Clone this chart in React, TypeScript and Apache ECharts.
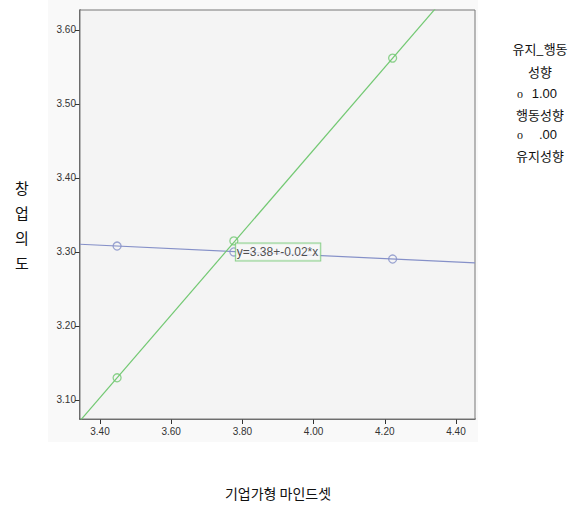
import React, { useEffect, useRef } from "react";
import * as echarts from "echarts";

const xTicks = ["3.40", "3.60", "3.80", "4.00", "4.20", "4.40"];
const yTicks = ["3.10", "3.20", "3.30", "3.40", "3.50", "3.60"];
const groupX = [3.448, 3.776, 4.222];
const actionValues = [3.13, 3.315, 3.562]; // 행동성향 (1.00)
const keepValues = [3.308, 3.3, 3.2905]; // 유지성향 (.00)
const actionFit = [1.206, 0.558];
const keepFit = [3.386, -0.0226];
const fitLabel = "y=3.38+-0.02*x";
const legendTitle = "유지_행동\n성향";
const legendItems = ["1.00\n행동성향", ".00\n유지성향"];

const X_MIN = 3.3438;
const X_MAX = 4.4534;
const Y_MIN = 3.0743;
const Y_MAX = 3.627;

const GREEN = "#72c872";
const BLUE = "#8590c8";

export default function App() {
  const ref = useRef<HTMLDivElement>(null);
  useEffect(() => {
    if (!ref.current) return;
    const chart = echarts.init(ref.current, null, { renderer: "svg" });
    const fitLine = (c: number[]) => [
      [X_MIN, c[0] + c[1] * X_MIN],
      [X_MAX, c[0] + c[1] * X_MAX],
    ];
    const tickFont = { fontFamily: "Liberation Sans, Arial", fontSize: 10, color: "#333" };
    chart.setOption({
      animation: false,
      backgroundColor: "#ffffff",
      grid: { left: 80, top: 10, width: 395, height: 409, show: true, backgroundColor: "#f4f4f4", borderColor: "#777", borderWidth: 1, z: 1 },
      xAxis: {
        type: "value",
        min: X_MIN,
        max: X_MAX,
        splitLine: { show: false },
        axisLine: { show: true, onZero: false, lineStyle: { color: "#333", width: 1.5 } },
        axisTick: { show: true, length: 5, lineStyle: { color: "#333" }, customValues: xTicks.map(Number) },
        axisLabel: { ...tickFont, margin: 7, customValues: xTicks.map(Number), formatter: (v: number) => v.toFixed(2) },
      },
      yAxis: {
        type: "value",
        min: Y_MIN,
        max: Y_MAX,
        splitLine: { show: false },
        axisLine: { show: true, onZero: false, lineStyle: { color: "#333", width: 1.5 } },
        axisTick: { show: true, length: 5, lineStyle: { color: "#333" }, customValues: yTicks.map(Number) },
        axisLabel: { ...tickFont, margin: 4, customValues: yTicks.map(Number), formatter: (v: number) => v.toFixed(2) },
      },
      graphic: [
        {
          type: "rect",
          z: -10,
          shape: { x: 48, y: 0, width: 430, height: 442 },
          style: { fill: "#f9f9f9" },
          silent: true,
        },
        {
          type: "text",
          x: 22,
          y: 225,
          style: {
            text: "창\n업\n의\n도",
            fontFamily: "Noto Sans CJK KR",
            fontSize: 15,
            lineHeight: 25,
            fill: "#111",
            align: "center",
            verticalAlign: "middle",
          },
        },
        {
          type: "text",
          x: 278,
          y: 493,
          style: {
            text: "기업가형 마인드셋",
            fontFamily: "Noto Sans CJK KR",
            fontSize: 14,
            fill: "#111",
            align: "center",
            verticalAlign: "middle",
          },
        },
        {
          type: "text",
          x: 540,
          y: 60,
          style: {
            text: legendTitle,
            fontFamily: "Noto Sans CJK KR",
            fontSize: 13,
            lineHeight: 23,
            fill: "#111",
            align: "center",
            verticalAlign: "middle",
          },
        },
        ...legendItems.map((t, i) => {
          const [val, name] = t.split("\n");
          return {
            type: "group",
            children: [
              {
                type: "text",
                x: 520,
                y: 94 + i * 41,
                style: { text: "o", fontFamily: "Liberation Serif", fontSize: 12, fill: "#111", align: "center", verticalAlign: "middle" },
              },
              {
                type: "text",
                x: 557,
                y: 93 + i * 41,
                style: { text: val, fontFamily: "Liberation Sans, Arial", fontSize: 13, fill: "#111", align: "right", verticalAlign: "middle" },
              },
              {
                type: "text",
                x: 540,
                y: 114 + i * 41,
                style: { text: name, fontFamily: "Noto Sans CJK KR", fontSize: 13, fill: "#111", align: "center", verticalAlign: "middle" },
              },
            ],
          };
        }),
      ],
      series: [
        {
          type: "line",
          data: fitLine(keepFit),
          symbol: "none",
          clip: true,
          lineStyle: { color: BLUE, width: 1.2 },
          z: 3,
        },
        {
          type: "line",
          data: fitLine(actionFit),
          symbol: "none",
          clip: true,
          lineStyle: { color: GREEN, width: 1.2 },
          z: 3,
        },
        {
          type: "scatter",
          data: groupX.map((x, i) => [x, keepValues[i]]),
          symbol: "circle",
          symbolSize: 8,
          itemStyle: { color: "rgba(0,0,0,0)", borderColor: BLUE, borderWidth: 1.3 },
          z: 4,
        },
        {
          type: "scatter",
          data: groupX.map((x, i) => [x, actionValues[i]]),
          symbol: "circle",
          symbolSize: 8,
          itemStyle: { color: "rgba(0,0,0,0)", borderColor: GREEN, borderWidth: 1.3 },
          z: 4,
        },
        {
          type: "scatter",
          data: [[groupX[1], keepValues[1]]],
          symbolSize: 0,
          z: 6,
          label: {
            show: true,
            position: "right",
            distance: 2,
            formatter: fitLabel,
            fontFamily: "Liberation Sans, Arial",
            fontSize: 12,
            color: "#222",
            backgroundColor: "#f8f8f8",
            borderColor: GREEN,
            borderWidth: 1,
            padding: [3, 2, 2, 1],
          },
        },
      ],
    });
    return () => chart.dispose();
  }, []);
  return <div ref={ref} style={{ position: "fixed", left: 0, top: 0, width: 577, height: 505 }} />;
}
